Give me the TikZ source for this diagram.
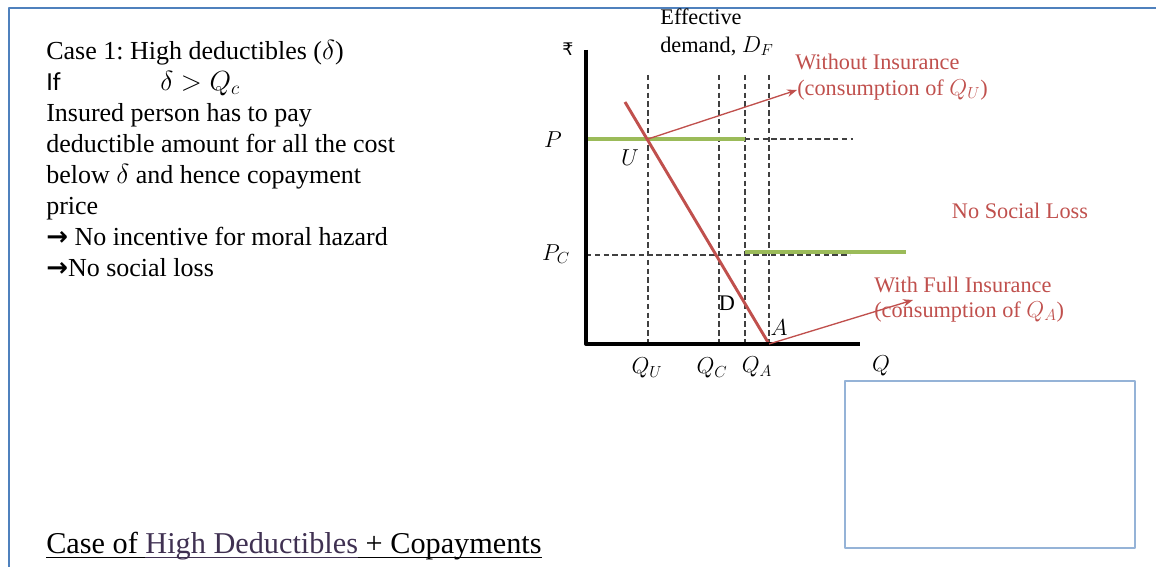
\documentclass[tikz,border=0pt]{standalone}
\usepackage{fontspec}
\setmainfont{Liberation Serif}
\newfontfamily\symfont{DejaVu Sans}
\newfontfamily\calfont{Carlito}
\usetikzlibrary{arrows.meta}
\frenchspacing

\definecolor{frameblue}{HTML}{4F81BD}
\definecolor{boxblue}{HTML}{95B3D7}
\definecolor{curvered}{HTML}{C0504D}
\definecolor{pricegreen}{HTML}{9BBB59}
\definecolor{titlepurple}{HTML}{403152}

% underline at a fixed depth
\newcommand{\flatul}[1]{\underline{\raisebox{0pt}[\height][2pt]{#1}}}

\tikzset{
  bigtxt/.style={font=\rmfamily\fontsize{19.5}{23}\selectfont, inner sep=0pt, anchor=base west},
  lbl/.style={font=\rmfamily\fontsize{16.7}{20}\selectfont, inner sep=0pt},
  redlbl/.style={lbl, text=curvered},
  guide/.style={line width=0.8pt, black!75, dash pattern=on 4pt off 2.6pt},
  priceline/.style={line width=2.3pt, pricegreen},
}

\begin{document}
\begin{tikzpicture}[line cap=butt, line join=round, >=Stealth, x=0.75pt, y=-0.75pt]
  \useasboundingbox (0,0) rectangle (1156,567);
  % slide frame
  \draw[frameblue, line width=1.6pt] (9,567) -- (9,8) -- (1156,8);

  % left text
  \node[bigtxt] (l1) at (46,60) {Case 1: High deductibles ($\delta$)};
  \node[bigtxt] (l2) at (46,90) {\calfont If};
  \node[bigtxt] (l2m) at (160,90) {$\delta > Q_c$};
  \node[bigtxt] (l3) at (46,121) {Insured person has to pay};
  \node[bigtxt] (l4) at (46,152) {deductible amount for all the cost};
  \node[bigtxt] (l5) at (46,183) {below $\delta$ and hence copayment};
  \node[bigtxt] (l6) at (46,214) {price};
  \node[bigtxt] (l7) at (46,245) {{\symfont\bfseries →} No incentive for moral hazard};
  \node[bigtxt] (l8) at (46,276) {{\symfont\bfseries →}No social loss};

  \node[bigtxt, font=\rmfamily\fontsize{22.7}{26}\selectfont] (title) at (46,553)
    {\flatul{Case of }{\color{titlepurple}\flatul{High Deductibles}}\flatul{ + Copayments}};

  % axes
  \coordinate (O) at (586,344);
  \coordinate (yTop) at (586,50);
  \coordinate (xEnd) at (860,344);

  % guide lines
  \foreach \gx in {648,719,745,769}
    \draw[guide] (\gx,75) -- (\gx,344);
  \draw[guide] (745,139) -- (853,139);
  \draw[guide] (586,255) -- (850,255);

  % prices
  \draw[priceline] (586,139) -- (745,139);
  \draw[priceline] (745,252) -- (906,252);

  % demand
  \coordinate (dTop) at (625,102);
  \coordinate (U) at (648,139);
  \coordinate (A) at (769,344);
  \draw[curvered, line width=2.2pt] (dTop) -- (A);

  \draw[line width=3pt, line cap=butt] (yTop) -- (O) -- (xEnd);

  % axis labels
  \node[font=\fontsize{13}{15}\selectfont\symfont, inner sep=0pt] (rupee) at (568,49) {₹};
  \node[lbl] (pLbl) at (553,140) {$P$};
  \node[lbl] (pcLbl) at (556,254) {$P_C$};
  \node[lbl] (uLbl) at (630,158) {$U$};
  \node[lbl] (dLbl) at (727,303) {D};
  \node[lbl] (aLbl) at (779,328) {$A$};
  \node[lbl] (quLbl) at (647,368) {$Q_U$};
  \node[lbl] (qcLbl) at (712,368) {$Q_C$};
  \node[lbl] (qaLbl) at (757,367) {$Q_A$};
  \node[lbl] (qLbl) at (881,366) {$Q$};

  \node[lbl] (eff1) at (701,17) {Effective};
  \node[lbl, anchor=west] (eff2) at (660,46) {demand, $D_F$};

  % red notes
  \node[redlbl, anchor=west] (woi1) at (795,62) {Without Insurance};
  \node[redlbl, anchor=west] (woi2) at (797,90) {(consumption of $Q_U$)};
  \node[redlbl] (nsl) at (1020,211) {No Social Loss};
  \node[redlbl, anchor=west] (fi1) at (874,285) {With Full Insurance};
  \node[redlbl, anchor=west] (fi2) at (874,312) {(consumption of $Q_A$)};
  \coordinate (fiTip) at (913,300);

  \draw[->, curvered, line width=1pt] (U) -- (woi2.west);
  \draw[->, curvered, line width=1pt] (A) -- (fiTip);

  % empty box
  \draw[boxblue, line width=1.2pt] (845,381) rectangle (1135,548);
\end{tikzpicture}
\end{document}
